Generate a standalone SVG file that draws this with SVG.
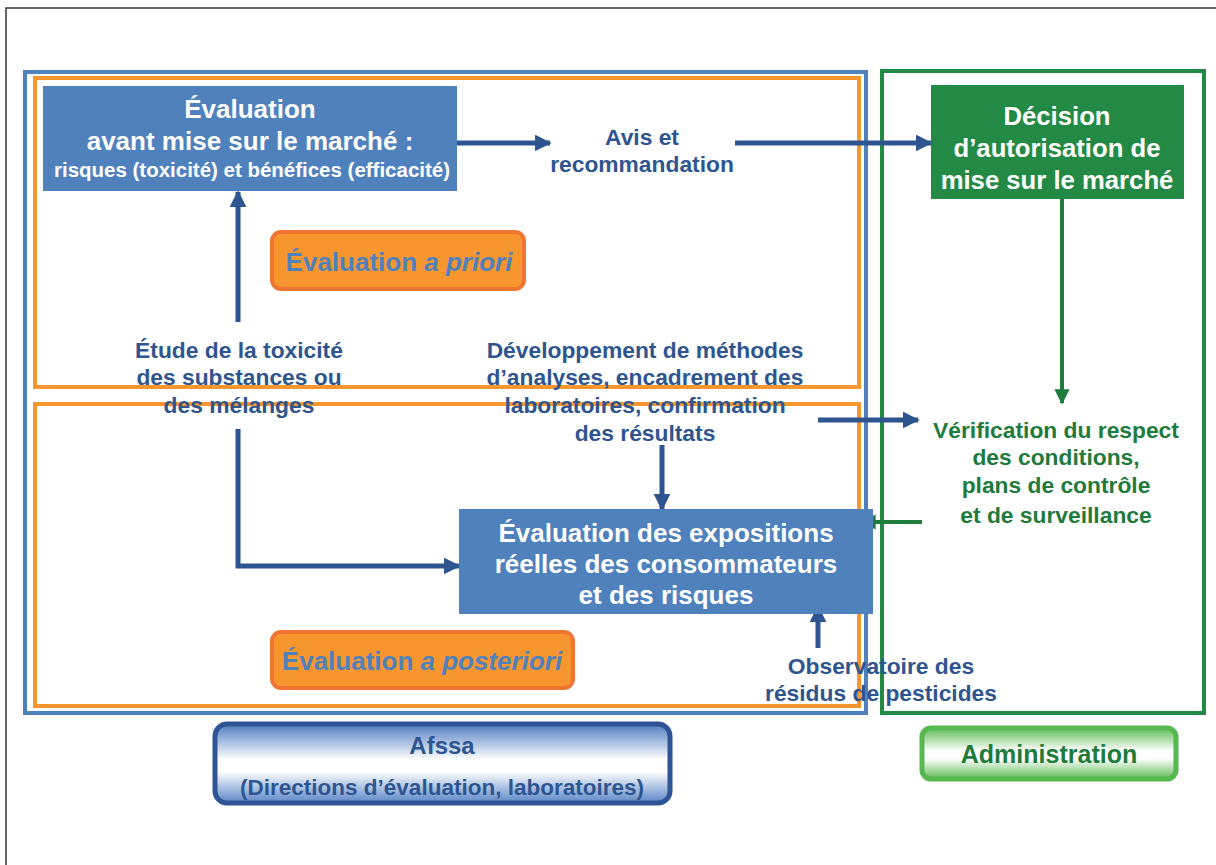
<svg xmlns="http://www.w3.org/2000/svg" width="1216" height="865" viewBox="0 0 1216 865">
<defs>
<style>
.t{font-family:"Liberation Sans",Arial,sans-serif;font-weight:bold;text-anchor:middle}
.w{fill:#ffffff}
.b{fill:#2E5590}
.g{fill:#1E7B3C}
.lb{fill:#4F81BD}
.ab{stroke:#2E5590;stroke-width:5;fill:none}
.ag{stroke:#1E7B3C;stroke-width:4;fill:none}
.lbl{font-size:22.8px}
.bx{font-size:26px}
</style>
<marker id="mb" viewBox="0 0 10 10" refX="9" refY="5" markerWidth="3.4" markerHeight="3.4" orient="auto" markerUnits="strokeWidth"><path d="M0,0 L10,5 L0,10 z" fill="#2E5590"/></marker>
<marker id="mg" viewBox="0 0 10 10" refX="9" refY="5" markerWidth="3.8" markerHeight="3.8" orient="auto" markerUnits="strokeWidth"><path d="M0,0 L10,5 L0,10 z" fill="#1E7B3C"/></marker>
<linearGradient id="gb" x1="0" y1="0" x2="0" y2="1">
<stop offset="0" stop-color="#4F7CC0"/><stop offset="0.45" stop-color="#ffffff"/><stop offset="0.6" stop-color="#ffffff"/><stop offset="1" stop-color="#5A86C6"/>
</linearGradient>
<linearGradient id="gg" x1="0" y1="0" x2="0" y2="1">
<stop offset="0" stop-color="#5DBB55"/><stop offset="0.45" stop-color="#ffffff"/><stop offset="0.6" stop-color="#ffffff"/><stop offset="1" stop-color="#5DBB55"/>
</linearGradient>
</defs>
<rect x="0" y="0" width="1216" height="865" fill="#ffffff"/>
<rect x="6" y="8" width="1230" height="880" fill="none" stroke="#333" stroke-width="1.5"/>

<g id="frames">
<rect x="25" y="72" width="841" height="641" fill="none" stroke="#4F81BD" stroke-width="4"/>
<rect x="35" y="78" width="824" height="309" fill="none" stroke="#F7962F" stroke-width="4"/>
<rect x="35" y="404" width="824" height="302" fill="none" stroke="#F7962F" stroke-width="4"/>
<rect x="882" y="71" width="322" height="642" fill="none" stroke="#238A45" stroke-width="4"/>
</g>

<g id="connectors">
<line class="ab" x1="457" y1="143" x2="550" y2="143" marker-end="url(#mb)"/>
<line class="ab" x1="735" y1="143" x2="931" y2="143" marker-end="url(#mb)"/>
<line class="ab" x1="238" y1="322" x2="238" y2="192" marker-end="url(#mb)"/>
<polyline class="ab" points="238,429 238,566 459,566" marker-end="url(#mb)"/>
<line class="ab" x1="662" y1="445" x2="662" y2="509" marker-end="url(#mb)"/>
<line class="ab" x1="818" y1="420" x2="918" y2="420" marker-end="url(#mb)"/>
<line class="ab" x1="818" y1="648" x2="818" y2="607" marker-end="url(#mb)"/>
<line class="ag" x1="1062" y1="199" x2="1062" y2="403" marker-end="url(#mg)"/>
<line class="ag" x1="922" y1="522" x2="862" y2="522" marker-end="url(#mg)"/>
</g>

<g id="eval-avant">
<rect x="43" y="86" width="414" height="105" fill="#4F81BD"/>
<text class="t w bx" x="250" y="118">Évaluation</text>
<text class="t w bx" x="250" y="150">avant mise sur le marché :</text>
<text class="t w" x="252" y="177" font-size="19.5" textLength="396" lengthAdjust="spacingAndGlyphs">risques (toxicité) et  bénéfices (efficacité)</text>
</g>

<g id="avis">
<text class="t b lbl" x="642" y="145">Avis et</text>
<text class="t b lbl" x="642" y="172">recommandation</text>
</g>

<g id="decision">
<rect x="931" y="85" width="253" height="114" fill="#238A45"/>
<text class="t w" x="1057" y="125" font-size="25.7">Décision</text>
<text class="t w" x="1057" y="157" font-size="25.7">d’autorisation de</text>
<text class="t w" x="1057" y="189" font-size="25.7">mise sur le marché</text>
</g>

<g id="apriori">
<rect x="272" y="232" width="252" height="57" rx="9" fill="#F7962F" stroke="#F07532" stroke-width="4"/>
<text class="t lb bx" x="399" y="271">Évaluation <tspan font-style="italic">a priori</tspan></text>
</g>

<g id="etude">
<text class="t b lbl" x="239" y="358">Étude de la toxicité</text>
<text class="t b lbl" x="239" y="385">des substances ou</text>
<text class="t b lbl" x="239" y="413">des mélanges</text>
</g>

<g id="developpement">
<text class="t b lbl" x="645" y="358">Développement de méthodes</text>
<text class="t b lbl" x="645" y="385">d’analyses, encadrement des</text>
<text class="t b lbl" x="645" y="413">laboratoires, confirmation</text>
<text class="t b lbl" x="645" y="441">des résultats</text>
</g>

<g id="verification">
<text class="t g lbl" x="1056" y="438">Vérification du respect</text>
<text class="t g lbl" x="1056" y="465">des conditions,</text>
<text class="t g lbl" x="1056" y="493">plans de contrôle</text>
<text class="t g lbl" x="1056" y="523">et de surveillance</text>
</g>

<g id="eval-expositions">
<rect x="459" y="509" width="414" height="105" fill="#4F81BD"/>
<text class="t w bx" x="666" y="542">Évaluation des expositions</text>
<text class="t w bx" x="666" y="573">réelles des consommateurs</text>
<text class="t w bx" x="666" y="604">et des risques</text>
</g>

<g id="aposteriori">
<rect x="272" y="632" width="301" height="56" rx="9" fill="#F7962F" stroke="#F07532" stroke-width="4"/>
<text class="t lb bx" x="422" y="670">Évaluation <tspan font-style="italic">a posteriori</tspan></text>
</g>

<g id="observatoire">
<text class="t b lbl" x="881" y="674">Observatoire des</text>
<text class="t b lbl" x="881" y="701">résidus de pesticides</text>
</g>

<g id="afssa">
<rect x="215" y="724" width="455" height="79" rx="12" fill="url(#gb)" stroke="#2F5597" stroke-width="5"/>
<text class="t b" x="442" y="754" font-size="24">Afssa</text>
<text class="t b" x="442" y="795" font-size="22.5">(Directions d’évaluation, laboratoires)</text>
</g>

<g id="administration">
<rect x="922" y="728" width="254" height="51" rx="9" fill="url(#gg)" stroke="#57B84F" stroke-width="5"/>
<text class="t g" x="1049" y="763" font-size="25">Administration</text>
</g>
</svg>
